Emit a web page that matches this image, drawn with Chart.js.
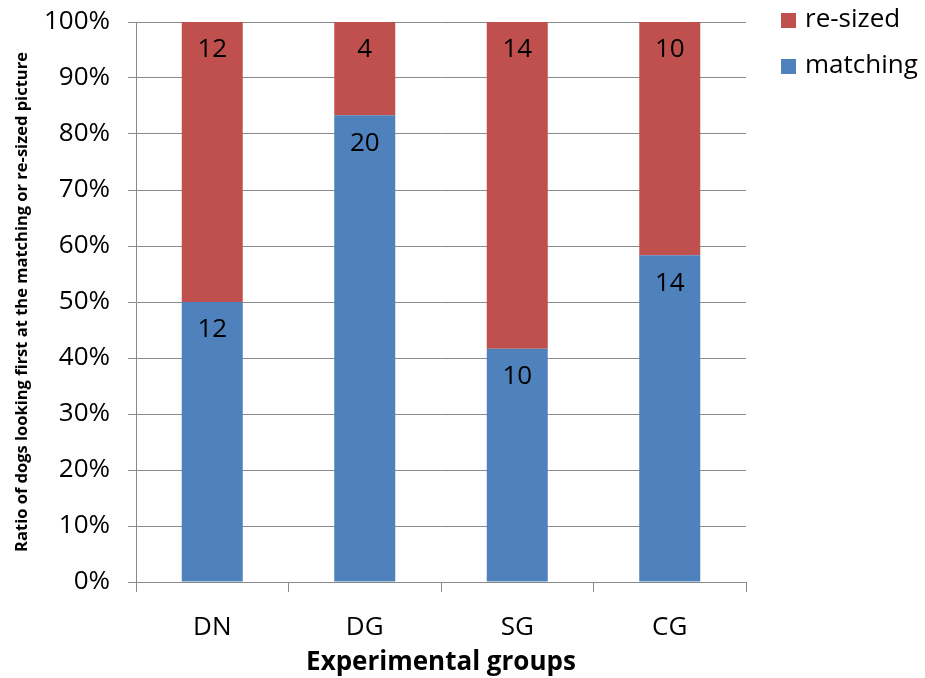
<!DOCTYPE html>
<html>
<head>
<meta charset="utf-8">
<script src="https://cdn.jsdelivr.net/npm/chart.js@4"></script>
<style>
  html, body { margin: 0; padding: 0; background: #fff; }
  #wrap { width: 925px; height: 678px; }
</style>
</head>
<body>
<div id="wrap"><canvas id="chart"></canvas></div>
<script>
// --- DATA ---
const groups = ['DN', 'DG', 'SG', 'CG'];
const matching = [12, 20, 10, 14];
const resized = [12, 4, 14, 10];
const yTicks = [0, 10, 20, 30, 40, 50, 60, 70, 80, 90, 100];

const FONT = '"Open Sans", sans-serif';
const RED = '#C0504D', BLUE = '#4F81BD', GRID = '#8a8a8a';

// counts -> share of the group (100% stacked)
const totals = groups.map((g, i) => matching[i] + resized[i]);
const pct = (arr) => arr.map((v, i) => v / totals[i] * 100);

// --- PLUGINS ---
// count written near the top of each segment
const segLabels = {
    id: 'segLabels',
    afterDatasetsDraw(chart) {
        const ctx = chart.ctx;
        ctx.save();
        ctx.font = '26px ' + FONT;
        ctx.fillStyle = '#000';
        ctx.textAlign = 'center';
        ctx.textBaseline = 'middle';
        chart.data.datasets.forEach((ds, di) => {
            chart.getDatasetMeta(di).data.forEach((bar, i) => {
                ctx.fillText(ds.counts[i], bar.x, bar.y + 28);
            });
        });
        ctx.restore();
    }
};

// legend at the right, top series first
const sideLegend = {
    id: 'sideLegend',
    afterDraw(chart) {
        const ctx = chart.ctx;
        const x = chart.chartArea.right + 35;
        ctx.save();
        ctx.font = '26px ' + FONT;
        ctx.textBaseline = 'middle';
        ctx.textAlign = 'left';
        chart.data.datasets.slice().reverse().forEach((ds, k) => {
            const y = 20 + k * 46;
            ctx.fillStyle = ds.backgroundColor;
            ctx.fillRect(x, y - 7, 15, 15);
            ctx.fillStyle = '#000';
            ctx.fillText(ds.label, x + 24, y);
        });
        ctx.restore();
    }
};

// --- CHART ---
new Chart(document.getElementById('chart'), {
    type: 'bar',
    data: {
        labels: groups,
        datasets: [
            { label: 'matching', data: pct(matching), counts: matching, backgroundColor: BLUE },
            { label: 're-sized', data: pct(resized), counts: resized, backgroundColor: RED }
        ]
    },
    options: {
        responsive: true, maintainAspectRatio: false, animation: false,
        layout: { padding: { top: 22, right: 179, left: 8, bottom: 0 } },
        datasets: { bar: { barPercentage: 0.4, categoryPercentage: 1.0 } },
        plugins: { legend: { display: false }, tooltip: { enabled: false } },
        scales: {
            x: {
                stacked: true,
                afterFit: (s) => { s.height = 96; s.paddingLeft = 0; s.paddingRight = 0; },
                grid: { offset: true, drawOnChartArea: false, color: GRID, tickLength: 10 },
                border: { color: GRID },
                ticks: { font: { family: FONT, size: 26 }, color: '#000', padding: 20 },
                title: { display: true, text: 'Experimental groups', color: '#000',
                         font: { family: FONT, size: 26, weight: 'bold' }, padding: { top: 0, bottom: 0 } }
            },
            y: {
                stacked: true, min: 0, max: 100,
                afterFit: (s) => { s.width = 128; s.paddingTop = 0; s.paddingBottom = 0; },
                afterBuildTicks: (s) => { s.ticks = yTicks.map(v => ({ value: v })); },
                grid: { color: GRID, tickLength: 8 },
                border: { color: GRID },
                ticks: { font: { family: FONT, size: 26 }, color: '#000', padding: 18,
                         callback: (v) => v + '%' },
                title: { display: true, text: 'Ratio of dogs looking first at the matching or re-sized picture',
                         color: '#000', font: { family: FONT, size: 16.5, weight: 'bold' }, padding: { top: 4, bottom: 0 } }
            }
        }
    },
    plugins: [segLabels, sideLegend]
});
</script>
</body>
</html>
